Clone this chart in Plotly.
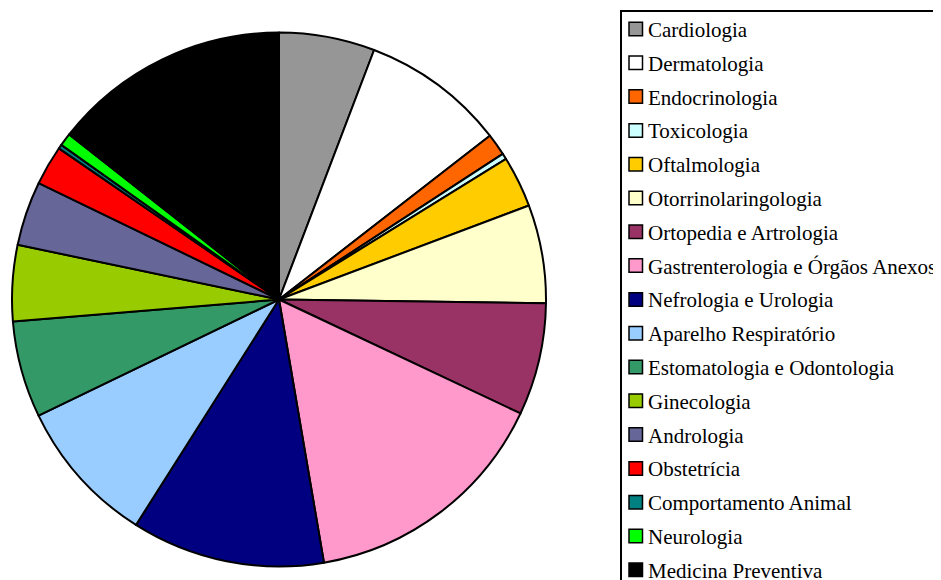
import plotly.graph_objects as go

W, H = 941, 580
OFF = 8  # page body margin offset

labels = [
    "Cardiologia", "Dermatologia", "Endocrinologia", "Toxicologia",
    "Oftalmologia", "Otorrinolaringologia", "Ortopedia e Artrologia",
    "Gastrenterologia e Órgãos Anexos", "Nefrologia e Urologia",
    "Aparelho Respiratório", "Estomatologia e Odontologia", "Ginecologia",
    "Andrologia", "Obstetrícia", "Comportamento Animal", "Neurologia",
    "Medicina Preventiva",
]
values = [5.8, 8.7, 1.33, 0.36, 3.1, 5.95, 6.8, 15.3, 11.7, 8.85, 5.85,
          4.6, 3.9, 2.4, 0.25, 0.78, 14.4]
colors = [
    "#969696", "#FFFFFF", "#FF6600", "#CCFFFF", "#FFCC00", "#FFFFCC",
    "#993366", "#FF99CC", "#000080", "#99CCFF", "#339966", "#99CC00",
    "#666699", "#FF0000", "#008080", "#00FF00", "#000000",
]

def px(x):
    return (x - OFF) / W

def py(y):
    return 1 - (y - OFF) / H

# pie geometry (page pixels)
cx, cy, r = 279, 299.5, 267

fig = go.Figure()
fig.add_trace(go.Pie(
    labels=labels,
    values=values,
    sort=False,
    direction="clockwise",
    rotation=0,
    textinfo="none",
    showlegend=False,
    marker=dict(colors=colors, line=dict(color="#000000", width=2)),
    domain=dict(x=[px(cx - r), px(cx + r)],
                y=[py(cy + r), py(cy - r)]),
))

FONT = "Times New Roman, Liberation Serif, DejaVu Serif, serif"
shapes = []
annotations = []
shapes.append(dict(type="rect", xref="paper", yref="paper",
                   x0=px(621), x1=px(990), y0=py(640), y1=py(11),
                   line=dict(color="#000000", width=2), fillcolor="white",
                   layer="below"))
row0, step, sw = 29, 33.8, 13.5
for i, (lab, col) in enumerate(zip(labels, colors)):
    yc = row0 + step * i
    shapes.append(dict(type="rect", xref="paper", yref="paper",
                       x0=px(629), x1=px(629 + sw),
                       y0=py(yc + sw / 2), y1=py(yc - sw / 2),
                       line=dict(color="#000000", width=1.5), fillcolor=col))
    annotations.append(dict(xref="paper", yref="paper", x=px(646), y=py(yc + 1),
                            xanchor="left", yanchor="middle", showarrow=False,
                            text=lab,
                            font=dict(family=FONT, size=21, color="#000000")))

fig.update_layout(
    width=W, height=H,
    margin=dict(l=0, r=0, t=0, b=0),
    paper_bgcolor="white",
    plot_bgcolor="white",
    font=dict(family=FONT),
    showlegend=False,
    shapes=shapes,
    annotations=annotations,
)

fig.write_html("out.html")
